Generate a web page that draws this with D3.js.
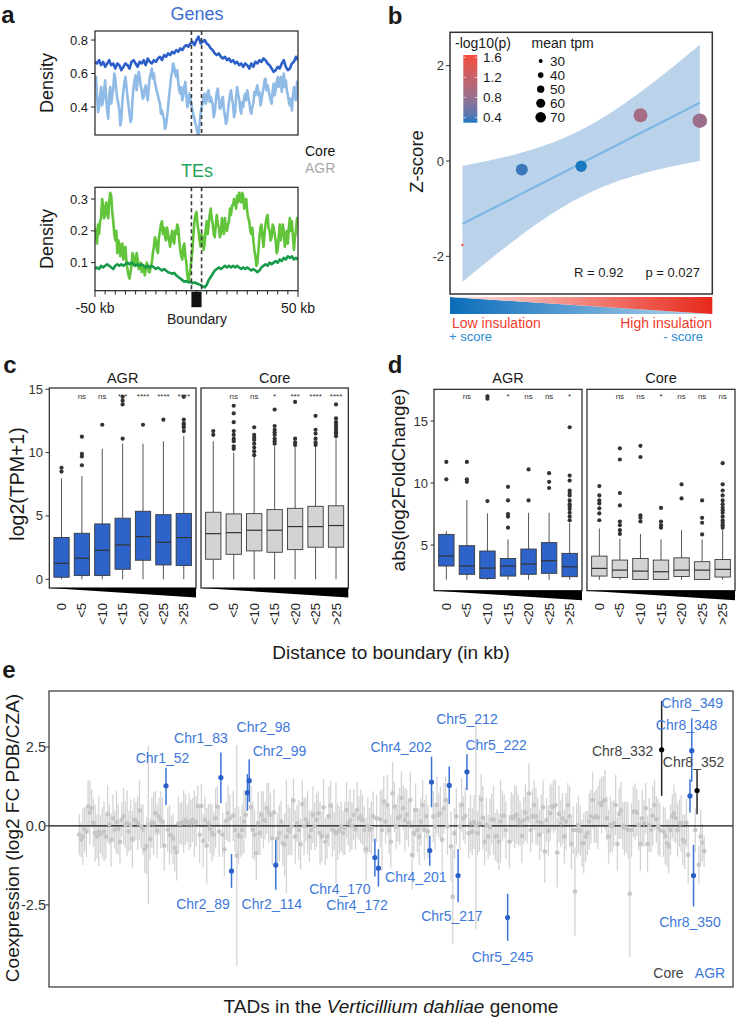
<!DOCTYPE html>
<html><head><meta charset="utf-8">
<script src="https://cdn.jsdelivr.net/npm/d3@7"></script>
<style>
body{margin:0;background:#fff;}
svg{display:block;font-family:"Liberation Sans",Arial,Helvetica,sans-serif;}
</style></head><body>
<svg id="fig" width="739" height="1019"></svg>
<script>
// ---------------- DATA ----------------
// Panel a: density profiles around TAD boundaries
const kbPos = d3.range(-50, 51);            // 1 kb bins (Core)
const kbPosHalf = d3.range(-50, 50.01, 0.5); // 0.5 kb bins (AGR)
const geneCore = [0.67,0.66,0.68,0.65,0.67,0.64,0.66,0.68,0.65,0.66,
  0.63,0.66,0.65,0.62,0.64,0.66,0.65,0.63,0.67,0.68,
  0.66,0.64,0.67,0.66,0.68,0.65,0.69,0.67,0.66,0.68,
  0.67,0.69,0.70,0.68,0.71,0.70,0.72,0.71,0.73,0.72,
  0.74,0.73,0.75,0.74,0.76,0.77,0.76,0.78,0.79,0.77,
  0.80,0.82,0.78,0.79,0.80,0.78,0.77,0.75,0.74,0.72,
  0.71,0.72,0.70,0.69,0.70,0.68,0.69,0.67,0.68,0.66,
  0.67,0.65,0.66,0.64,0.66,0.65,0.63,0.66,0.64,0.67,
  0.66,0.68,0.67,0.69,0.68,0.66,0.65,0.63,0.61,0.62,
  0.64,0.63,0.66,0.68,0.64,0.62,0.63,0.66,0.67,0.70,0.68];
const geneAGR = [
  0.53,0.58,0.46,0.37,0.40,0.47,0.52,0.41,0.44,0.50,0.56,0.45,0.38,0.33,0.47,0.52,0.42,0.47,0.51,0.60,
  0.57,0.50,0.45,0.42,0.38,0.29,0.33,0.44,0.50,0.55,0.58,0.52,0.46,0.41,0.36,0.31,0.33,0.45,0.52,0.56,
  0.59,0.50,0.55,0.61,0.58,0.53,0.50,0.45,0.46,0.51,0.53,0.48,0.44,0.52,0.58,0.60,0.63,0.57,0.60,0.55,
  0.52,0.49,0.47,0.44,0.42,0.36,0.38,0.35,0.33,0.27,0.29,0.34,0.40,0.47,0.52,0.58,0.61,0.66,0.64,0.60,
  0.58,0.62,0.55,0.50,0.48,0.52,0.44,0.47,0.52,0.55,0.47,0.40,0.42,0.48,0.45,0.41,0.38,0.35,0.33,0.30,
  0.28,0.24,0.23,0.30,0.36,0.40,0.42,0.46,0.48,0.42,0.44,0.49,0.50,0.43,0.46,0.44,0.41,0.34,0.37,0.44,
  0.49,0.51,0.44,0.39,0.40,0.45,0.46,0.38,0.35,0.30,0.32,0.38,0.43,0.47,0.50,0.45,0.41,0.34,0.37,0.46,
  0.52,0.48,0.45,0.39,0.36,0.43,0.40,0.46,0.48,0.44,0.50,0.46,0.43,0.38,0.36,0.40,0.42,0.49,0.47,0.51,
  0.53,0.47,0.49,0.41,0.44,0.48,0.51,0.56,0.57,0.50,0.53,0.50,0.47,0.44,0.42,0.49,0.54,0.47,0.50,0.55,
  0.58,0.52,0.54,0.58,0.49,0.55,0.60,0.52,0.56,0.50,0.47,0.43,0.41,0.45,0.38,0.47,0.52,0.46,0.44,0.55,0.50];
const teCore = [0.080,0.085,0.080,0.090,0.085,0.090,0.095,0.090,0.085,0.080,
  0.090,0.095,0.090,0.095,0.090,0.095,0.100,0.095,0.100,0.095,
  0.090,0.095,0.090,0.095,0.090,0.085,0.090,0.085,0.090,0.085,
  0.080,0.085,0.080,0.075,0.080,0.075,0.070,0.068,0.065,0.068,
  0.060,0.055,0.050,0.045,0.040,0.042,0.038,0.040,0.035,0.038,
  0.035,0.032,0.030,0.025,0.022,0.030,0.045,0.055,0.065,0.075,
  0.080,0.085,0.080,0.085,0.090,0.085,0.090,0.085,0.090,0.085,
  0.090,0.085,0.080,0.085,0.080,0.085,0.080,0.075,0.080,0.075,
  0.070,0.075,0.085,0.090,0.095,0.090,0.100,0.095,0.100,0.105,
  0.100,0.110,0.105,0.115,0.110,0.120,0.115,0.120,0.110,0.115,0.110];
const teAGR = [
  0.21,0.18,0.16,0.22,0.19,0.23,0.24,0.30,0.28,0.24,0.25,0.29,0.27,0.24,0.29,0.32,0.31,0.26,0.23,0.19,
  0.17,0.20,0.13,0.17,0.16,0.12,0.14,0.16,0.11,0.13,0.15,0.10,0.08,0.06,0.05,0.07,0.09,0.13,0.12,0.09,
  0.10,0.13,0.11,0.08,0.09,0.10,0.07,0.09,0.09,0.06,0.08,0.10,0.09,0.07,0.07,0.09,0.10,0.13,0.15,0.18,
  0.17,0.14,0.13,0.18,0.20,0.22,0.23,0.19,0.21,0.18,0.17,0.21,0.19,0.17,0.15,0.18,0.20,0.17,0.16,0.20,
  0.19,0.22,0.21,0.17,0.14,0.12,0.11,0.15,0.16,0.12,0.10,0.06,0.04,0.06,0.08,0.11,0.14,0.19,0.23,0.25,
  0.26,0.22,0.20,0.17,0.15,0.19,0.18,0.14,0.16,0.20,0.23,0.19,0.22,0.25,0.27,0.24,0.22,0.19,0.18,0.22,
  0.25,0.22,0.21,0.18,0.19,0.24,0.22,0.19,0.24,0.21,0.20,0.22,0.23,0.27,0.25,0.28,0.28,0.30,0.29,0.27,
  0.31,0.29,0.32,0.30,0.29,0.32,0.31,0.27,0.28,0.30,0.26,0.24,0.23,0.20,0.19,0.21,0.17,0.14,0.12,0.09,
  0.10,0.14,0.18,0.21,0.22,0.18,0.15,0.19,0.22,0.24,0.25,0.21,0.20,0.17,0.18,0.22,0.21,0.19,0.17,0.13,
  0.14,0.18,0.22,0.17,0.19,0.22,0.20,0.15,0.17,0.20,0.16,0.21,0.24,0.20,0.23,0.18,0.14,0.18,0.20,0.24,0.23];

// Panel b: insulation categories
const bX = [1, 2, 3, 4, 5];
const bZ = [-1.76, -0.18, -0.11, 0.96, 0.845];
const bLogP = [1.7, 0.35, 0.30, 0.90, 0.85];
const bTpm = [20, 78, 75, 90, 94];
const legLogP = [1.6, 1.2, 0.8, 0.4];
const legTpm = [30, 40, 50, 60, 70];

// Panels c/d: distance categories; box stats [q1, median, q3, whiskerLow, whiskerHigh]
const distCats = ["0", "<5", "<10", "<15", "<20", "<25", ">25"];
const cStatsAGR = [[0.16,1.26,3.3,0,7.97],[0.29,1.66,3.63,0,8.16],[0.29,2.29,4.37,0,10.3],[0.79,2.71,4.82,0,10.7],[1.5,3.37,5.37,0,10.7],[1.13,2.92,5.1,0,10.9],[1.08,3.29,5.2,0,11.3]];
const cOutAGR = [[8.5,8.8],[9.0,9.7,9.9,11.26],[12.2],[11.1,13.8,14.1,14.4],[12.2],[12.6],[11.7,12.0,12.2,12.3,12.6,14.4]];
const cStatsCore = [[1.58,3.6,5.29,0,10.9],[1.97,3.68,5.16,0,10.0],[2.24,3.87,5.18,0,9.7],[2.13,3.87,5.5,0,10.5],[2.34,4.16,5.6,0,10.5],[2.53,4.16,5.76,0,10.5],[2.53,4.24,5.8,0,11.1]];
const cOutCore = [[11.4,11.7],[10.3,10.5,10.9,11.1,11.4,11.7,12.4,13.1,13.7],[9.8,10.1,10.4,10.7,11.0,11.2,11.4,12.0],[10.7,10.9,11.1,11.4,11.6,11.8,12.1,13.4],[10.6,10.8,11.1,14.0],[10.6,10.8,11.1,11.5,11.8,12.9],[11.3,11.5,11.6,11.8,12.0,12.2,12.4,12.7,13.8]];
const cSigAGR = ["", "ns", "ns", "***", "****", "****", "****"];
const cSigCore = ["", "ns", "ns", "*", "***", "****", "****"];
const dStatsAGR = [[3.31,4.11,5.86,2.2,6.13],[2.64,3.31,4.95,2.2,8.63],[2.31,3.14,4.52,2.2,7.55],[2.5,3.31,3.92,2.2,5.46],[2.64,3.47,4.68,2.2,7.6],[2.72,3.74,5.2,2.2,7.6],[2.45,3.25,4.33,2.2,6.8]];
const dOutAGR = [[10.3,11.7],[10.1,10.3,11.7],[8.55,16.8,17.0],[6.4,7.3,7.5,8.6,9.7],[8.6,11.1],[9.6,10.1,10.8],[7.0,7.3,7.6,7.9,8.1,8.3,8.6,9.0,9.2,9.4,10.2,10.6,14.5]];
const dStatsCore = [[2.5,3.12,4.11,2.2,6.34],[2.39,2.98,3.79,2.2,5.5],[2.23,2.9,3.92,2.2,5.9],[2.23,2.85,3.79,2.2,5.46],[2.47,2.98,3.97,2.2,6.2],[2.23,2.98,3.66,2.2,5.46],[2.42,3.04,3.84,2.2,6.2]];
const dOutCore = [[7.0,7.55,7.96,8.36,8.6,9.0,9.76],[5.9,6.2,6.6,6.9,8.2,9.2,11.9,12.8],[6.9,7.2,7.4,12.1,13.0],[6.4,6.6,6.9,8.0],[8.76,9.9],[5.86,6.8,7.2,8.6],[6.4,6.6,6.8,7.0,7.3,7.6,7.8,8.0,8.3,8.6,9.0,9.4,9.9,11.6]];
const dSigAGR = ["", "ns", "*", "*", "ns", "ns", "*"];
const dSigCore = ["", "ns", "ns", "*", "ns", "ns", "ns"];

// Panel e: TAD co-expression (TAD index starts at 3); null = highlighted TAD
const tadStart = 3;
const tadValue = [
 -0.28,-0.44,-0.34,-0.10,-0.18,0.61,0.42,0.56,0.10,-0.23,
 -0.34,-0.18,-0.26,-0.21,-0.18,-0.34,0.38,0.05,-0.44,0.24,
 -0.12,0.12,-0.10,-0.50,0.19,0.30,0.03,0.08,-0.18,0.03,
 -0.42,0.19,0.16,0.08,0.49,-0.02,-0.12,-0.74,-0.63,0.03,
 -0.42,0.10,0.08,0.40,-0.15,0.30,0.19,0.14,-0.63,null,
 -0.12,-0.28,-0.30,-0.41,-0.69,-0.83,0.08,0.08,0.08,0.14,
 0.19,0.08,0.14,0.08,0.19,0.08,0.14,0.63,-0.28,0.63,
 -0.47,0.19,-0.63,0.08,-0.08,-0.23,-0.28,0.24,0.61,-0.18,
 null,-0.28,-0.74,0.16,0.40,0.24,null,0.32,-0.13,-0.94,
 -0.30,-0.34,-0.13,0.14,0.35,null,null,0.59,-0.13,-0.28,
 -0.86,0.08,-0.23,0.35,0.19,0.16,0.56,0.42,0.35,-0.39,
 0.42,null,-0.39,-0.23,0.14,-0.55,-0.60,-0.34,-0.13,-0.18,
 -0.02,0.80,-0.34,0.08,-0.13,-0.58,0.69,-0.02,0.21,0.10,
 -0.34,-0.13,0.35,-0.02,0.19,0.40,-0.23,-0.34,0.59,-0.50,
 -0.34,0.30,0.64,-0.13,-0.16,-0.23,-0.18,-0.13,-0.02,-0.23,
 -0.07,0.50,0.08,0.17,0.00,0.35,-0.11,0.50,0.24,0.30,
 0.19,-0.13,-0.74,0.00,-0.13,-0.07,0.30,null,0.24,null,
 0.21,-0.13,0.77,0.14,0.66,-0.13,-0.50,1.03,0.61,-0.02,
 0.24,0.30,0.88,0.56,0.19,0.35,0.08,0.82,-0.92,-0.23,
 0.50,-0.13,-0.34,0.14,0.66,-0.13,0.30,-0.18,null,null,
 0.30,-0.02,0.66,0.35,0.40,-0.44,0.56,0.82,-0.02,null,
 -0.65,-2.24,-0.23,0.30,null,-0.02,0.66,0.24,0.32,null,
 -0.23,0.08,-0.18,0.11,0.02,-0.23,0.08,0.84,0.26,-0.50,
 0.03,-0.34,-0.04,0.21,0.19,-0.34,-0.32,-0.50,0.14,0.32,
 0.32,-0.13,null,-0.50,0.27,0.24,0.30,0.35,0.19,0.08,
 -0.32,0.17,0.42,0.24,1.03,-0.13,0.30,0.66,0.30,0.14,
 -0.28,0.10,0.59,-0.81,0.19,-0.15,0.40,0.61,0.61,0.66,
 -0.84,0.38,0.08,0.24,-0.34,0.14,0.66,0.30,-0.57,-0.13,
 -2.08,-0.13,0.03,-0.15,-0.55,-0.55,-0.34,-0.23,0.14,0.30,
 0.82,0.26,0.30,0.27,0.72,0.66,0.77,0.82,0.24,-0.34,
 0.03,-0.02,0.08,0.66,-0.57,0.38,0.49,0.00,-0.07,-0.05,
 -0.13,-2.15,-0.13,0.45,0.45,0.42,0.03,-0.57,0.24,0.08,
 0.56,-0.57,0.03,-0.13,0.32,0.66,0.21,-0.02,-0.13,null,
 -0.18,-0.32,-0.55,-0.65,-0.13,0.30,0.40,0.24,-0.13,0.08,
 0.08,-0.44,-0.50,0.10,-0.92,null,null,null,-0.13,null,
 -1.23,-0.34,-0.53,-0.80];
const tadErr = [
 0.65,0.55,0.9,0.7,0.8,0.85,1.0,0.6,0.75,0.9,
 0.7,1.1,0.6,0.8,0.95,0.7,0.9,0.65,0.85,0.75,
 0.6,1.0,0.8,0.7,0.55,0.9,0.75,1.05,0.65,0.8,
 0.9,0.7,0.6,0.85,0.95,0.7,0.8,0.75,0.9,2.5,
 0.65,0.8,1.0,0.7,0.85,0.6,0.9,0.75,0.8,0,
 0.7,0.95,0.6,0.8,0.75,0.9,0.85,0.65,0.7,1.0,
 0.8,0.6,0.9,0.75,0.7,1.05,0.8,0.65,0.9,0.7,
 0.85,0.75,1.2,0.6,0.8,0.9,0.7,0.95,0.65,0.8,
 0,0.7,0.85,0.6,0.9,0.75,0,0.8,0.7,3.5,
 0.9,0.65,0.8,1.0,0.75,0,0,0.7,0.9,0.8,
 0.85,1.0,0.7,0.75,0.9,0.6,0.8,0.95,0.7,0.85,
 0.75,0,0.8,0.9,0.65,0.7,1.0,1.8,0.8,0.75,
 0.9,0.7,0.85,0.6,0.95,0.8,0.75,0.9,0.7,1.0,
 0.8,0.65,0.9,0.75,0.85,0.7,1.0,0.8,0.9,0.75,
 0.7,0.95,0.8,0.85,0.6,1.6,0.9,0.75,0.8,0.7,
 0.85,0.9,0.7,1.0,0.75,0.8,0.65,0.9,0.7,0.85,
 0.8,0.75,1.0,0.9,0.7,0.85,0.8,0,0.75,0,
 0.9,1.3,0.8,0.7,0.95,0.75,0.85,1.0,0.8,0.7,
 0.75,0.9,0.85,0.7,1.0,0.8,0.75,0.9,1.1,0.8,
 0.85,0.7,0.9,0.75,0.8,0.95,0.7,0.85,0,0,
 0.8,0.75,0.9,0.7,0.85,1.0,0.8,0.75,0.9,0,
 1.1,1.5,0.8,0.9,0,0.75,0.85,0.7,0.9,0,
 0.8,0.9,0.75,0.85,3.3,0.7,0.9,0.8,1.0,0.75,
 0.85,0.7,0.9,0.8,1.1,0.75,0.85,0.9,1.3,0.8,
 0.7,0.9,0,0.85,0.8,0.75,1.0,0.9,0.8,0.7,
 0.85,0.75,0.9,0.8,0.95,0.7,0.85,0.8,0.9,0.75,
 0.8,0.9,0.85,1.0,0.7,0.8,0.9,0.75,0.85,0.8,
 1.1,0.9,0.75,0.8,0.85,0.9,0.7,0.95,0.8,0.75,
 1.4,0.85,0.9,0.8,0.75,0.95,0.8,0.7,0.9,0.85,
 0.9,0.8,0.85,1.0,0.75,0.9,0.8,0.95,0.7,0.85,
 0.9,0.8,0.75,0.95,0.85,0.8,0.9,0.75,0.85,0.8,
 0.9,2.0,0.85,0.8,0.9,0.75,0.8,0.85,0.9,0.75,
 0.8,0.9,0.85,0.7,0.95,0.8,0.75,0.9,0.85,0,
 0.8,0.9,0.75,0.85,0.8,0.7,0.9,0.8,0.85,0.75,
 0.9,0.8,0.85,0.75,0.9,0,0,0,0.7,0,
 0.6,0.85,0.6,0.5];
// highlighted TADs: name, TAD index, value, lower, upper, compartment
const hlName  = ["Chr1_52","Chr1_83","Chr2_89","Chr2_98","Chr2_99","Chr2_114","Chr4_170","Chr4_172","Chr4_201","Chr4_202","Chr5_212","Chr5_217","Chr5_222","Chr5_245","Chr8_332","Chr8_348","Chr8_349","Chr8_350","Chr8_352"];
const hlIndex = [52,83,89,98,99,114,170,172,201,202,212,217,222,245,332,348,349,350,352];
const hlValue = [1.27,1.53,-1.43,1.05,1.43,-1.24,-1.0,-1.34,-0.78,1.39,1.28,-1.57,1.71,-2.9,2.41,0.95,2.38,-1.57,1.12];
const hlLow   = [0.66,0.72,-1.96,0.48,0.76,-2.02,-1.6,-1.92,-1.26,0.59,0.69,-2.42,1.14,-3.64,0.95,0.42,1.4,-2.55,0.37];
const hlHigh  = [1.84,2.32,-0.89,1.64,2.11,-0.44,-0.41,-0.74,-0.31,2.19,1.88,-0.74,2.27,-2.15,3.96,1.48,3.41,-0.6,1.8];
const hlGroup = ["AGR","AGR","AGR","AGR","AGR","AGR","AGR","AGR","AGR","AGR","AGR","AGR","AGR","AGR","Core","AGR","AGR","AGR","Core"];

// ---------------- LAYOUT / STYLE ----------------
const svg = d3.select("#fig");
function T(x, y, s, o = {}) {
  const t = svg.append("text").attr("x", x).attr("y", y).text(s)
    .attr("font-size", o.size || 13).attr("fill", o.fill || "#1a1a1a")
    .attr("text-anchor", o.anchor || "start");
  if (o.weight) t.attr("font-weight", o.weight);
  if (o.rot) t.attr("transform", `rotate(${o.rot},${x},${y})`);
  if (o.mid) t.attr("dy", "0.35em");
  if (o.style) t.attr("font-style", o.style);
  return t;
}
const defs = svg.append("defs");

// panel letters
T(8, 15, "a", {size: 24, weight: "bold", anchor: "middle", mid: true});
T(395, 16, "b", {size: 24, weight: "bold", anchor: "middle", mid: true});
T(10, 365, "c", {size: 24, weight: "bold", anchor: "middle", mid: true});
T(395, 365, "d", {size: 24, weight: "bold", anchor: "middle", mid: true});
T(9, 670, "e", {size: 24, weight: "bold", anchor: "middle", mid: true});

// ---------------- PANEL A ----------------
const xA = d3.scaleLinear().domain([-50, 50]).range([95, 298]);
const yGenes = d3.scaleLinear().domain([0.233, 0.854]).range([135, 31]);
const yTEs = d3.scaleLinear().domain([0.0117, 0.337]).range([290.7, 187.3]);
function panelA(yS, series, positions, colors, ticks, title, titleColor, titleY, clipId) {
  const [y1, y0] = yS.range();
  defs.append("clipPath").attr("id", clipId).append("rect")
    .attr("x", 95).attr("y", y0).attr("width", 203).attr("height", y1 - y0);
  const line = d3.line().x(d => xA(d[0])).y(d => yS(d[1]));
  series.forEach((vals, k) => {
    svg.append("path").datum(vals.map((v, i) => [positions[k][i], v]))
      .attr("d", line).attr("fill", "none").attr("stroke", colors[k])
      .attr("stroke-width", 2.6).attr("stroke-linejoin", "round")
      .attr("clip-path", `url(#${clipId})`);
  });
  [-2.5, 2.5].forEach(b => svg.append("line").attr("x1", xA(b)).attr("x2", xA(b))
    .attr("y1", y0).attr("y2", y1).attr("stroke", "#3a3a3a").attr("stroke-width", 1.6)
    .attr("stroke-dasharray", "4,3"));
  svg.append("rect").attr("x", 95).attr("y", y0).attr("width", 203).attr("height", y1 - y0)
    .attr("fill", "none").attr("stroke", "#222").attr("stroke-width", 1.2);
  ticks.forEach(t => {
    svg.append("line").attr("x1", 91).attr("x2", 95).attr("y1", yS(t)).attr("y2", yS(t)).attr("stroke", "#222");
    T(88, yS(t), t.toFixed(1), {size: 13, anchor: "end", mid: true});
  });
  T(47, (y0 + y1) / 2, "Density", {size: 18, anchor: "middle", mid: true, rot: -90});
  T(197, titleY, title, {size: 18, anchor: "middle", mid: true, fill: titleColor});
}
panelA(yGenes, [geneAGR, geneCore], [kbPosHalf, kbPos], ["#8FBBE6", "#2C5FC8"], [0.4, 0.6, 0.8], "Genes", "#3B6FD6", 14, "clipG");
panelA(yTEs, [teAGR, teCore], [kbPosHalf, kbPos], ["#62C43A", "#179A4A"], [0.1, 0.2, 0.3], "TEs", "#1FA35A", 171, "clipT");
T(305, 151, "Core", {size: 14, mid: true, fill: "#111"});
T(305, 168, "AGR", {size: 14, mid: true, fill: "#a8a8a8"});
d3.range(-50, 51, 5).forEach(k => {
  const end = (k === -50 || k === 50);
  svg.append("line").attr("x1", xA(k)).attr("x2", xA(k)).attr("y1", 290.7).attr("y2", end ? 297 : 294.5)
    .attr("stroke", "#222").attr("stroke-width", 1);
});
svg.append("rect").attr("x", xA(-2.5)).attr("y", 291.7).attr("width", xA(2.5) - xA(-2.5)).attr("height", 15.5).attr("fill", "#111");
T(xA(-50), 308, "-50 kb", {size: 14, anchor: "middle", mid: true});
T(xA(50), 308, "50 kb", {size: 14, anchor: "middle", mid: true});
T(197, 319, "Boundary", {size: 14, anchor: "middle", mid: true});

// ---------------- PANEL B ----------------
const xB = d3.scaleLinear().domain([0.79, 5.21]).range([450, 712.3]);
const yB = d3.scaleLinear().domain([-2.79, 2.7]).range([294, 32.3]);
const colB = d3.scaleLinear().domain([0.3, 1.646]).range(["#1B79C0", "#F44B3C"]).interpolate(d3.interpolateLab);
const rB = d3.scaleLinear().domain([30, 70]).range([2, 5.3]);
// linear fit with 95% CI (like geom_smooth(method = "lm"))
const n = bX.length, mx = d3.mean(bX), my = d3.mean(bZ);
const sxx = d3.sum(bX, x => (x - mx) ** 2);
const sxy = d3.sum(bX, (x, i) => (x - mx) * (bZ[i] - my));
const slope = sxy / sxx, icpt = my - slope * mx;
const sres = Math.sqrt(d3.sum(bX, (x, i) => (bZ[i] - icpt - slope * x) ** 2) / (n - 2));
const tq = 3.182;
const fitX = d3.range(1, 5.0001, 0.05);
const band = fitX.map(x => {
  const f = icpt + slope * x, se = sres * Math.sqrt(1 / n + (x - mx) ** 2 / sxx);
  return {x, f, lo: f - tq * se, hi: f + tq * se};
});
defs.append("clipPath").attr("id", "clipB").append("rect").attr("x", 450).attr("y", 32.3).attr("width", 262.3).attr("height", 261.7);
svg.append("path").datum(band).attr("d", d3.area().x(d => xB(d.x)).y0(d => yB(d.lo)).y1(d => yB(d.hi)))
  .attr("fill", "#BBD3EA").attr("clip-path", "url(#clipB)");
svg.append("path").datum(band).attr("d", d3.line().x(d => xB(d.x)).y(d => yB(d.f)))
  .attr("fill", "none").attr("stroke", "#7DB8E5").attr("stroke-width", 2.2);
svg.append("g").selectAll("circle").data(bX).join("circle")
  .attr("cx", d => xB(d)).attr("cy", (d, i) => yB(bZ[i])).attr("r", (d, i) => rB(bTpm[i]))
  .attr("fill", (d, i) => colB(bLogP[i]));
svg.append("rect").attr("x", 450).attr("y", 32.3).attr("width", 262.3).attr("height", 261.7)
  .attr("fill", "none").attr("stroke", "#333").attr("stroke-width", 1.5);
[-2, 0, 2].forEach(t => {
  svg.append("line").attr("x1", 446).attr("x2", 450).attr("y1", yB(t)).attr("y2", yB(t)).attr("stroke", "#333");
  T(444, yB(t), String(t), {size: 13, anchor: "end", mid: true, fill: "#333"});
});
T(417, 161.5, "Z-score", {size: 18.5, anchor: "middle", mid: true, rot: -90});
// legend: -log10(p)
T(455, 43.5, "-log10(p)", {size: 14, mid: true});
const lgY = d3.scaleLinear().domain([0.3, 1.646]).range([122.7, 55]);
const cbGrad = defs.append("linearGradient").attr("id", "cbGrad").attr("x1", 0).attr("y1", 1).attr("x2", 0).attr("y2", 0);
d3.range(0, 1.0001, 0.1).forEach(f => cbGrad.append("stop").attr("offset", f).attr("stop-color", colB(0.3 + f * 1.346)));
svg.append("rect").attr("x", 463.3).attr("y", 55).attr("width", 14).attr("height", 67.7).attr("fill", "url(#cbGrad)");
legLogP.forEach(v => {
  [[463.3, 466], [474.6, 477.3]].forEach(([a, b]) => svg.append("line").attr("x1", a).attr("x2", b)
    .attr("y1", lgY(v)).attr("y2", lgY(v)).attr("stroke", "#fff").attr("stroke-width", 0.8).attr("opacity", 0.8));
  T(483, lgY(v), v.toFixed(1), {size: 13.5, mid: true});
});
// legend: mean tpm
T(531.5, 43.5, "mean tpm", {size: 14, mid: true});
const tpmY = d3.scalePoint().domain(legTpm).range([61, 117.3]);
legTpm.forEach(v => {
  svg.append("circle").attr("cx", 540.7).attr("cy", tpmY(v)).attr("r", rB(v)).attr("fill", "#000");
  T(550, tpmY(v), String(v), {size: 13.5, mid: true});
});
T(574, 272.5, "R = 0.92", {size: 13, mid: true});
T(700, 272.5, "p = 0.027", {size: 13, anchor: "end", mid: true});
// insulation bar
const gBlue = defs.append("linearGradient").attr("id", "gBlue");
gBlue.append("stop").attr("offset", 0).attr("stop-color", "#0B6DB9");
gBlue.append("stop").attr("offset", 1).attr("stop-color", "#B7D6EE");
const gRed = defs.append("linearGradient").attr("id", "gRed");
gRed.append("stop").attr("offset", 0).attr("stop-color", "#FCE4E0");
gRed.append("stop").attr("offset", 1).attr("stop-color", "#E8281B");
svg.append("polygon").attr("points", "450,297 712.3,314 450,314").attr("fill", "url(#gBlue)");
svg.append("polygon").attr("points", "450,297 712.3,297 712.3,314").attr("fill", "url(#gRed)");
T(452, 323, "Low insulation", {size: 14, mid: true, fill: "#EF3B2C"});
T(712, 323, "High insulation", {size: 14, anchor: "end", mid: true, fill: "#EF3B2C"});
T(449, 336.5, "+ score", {size: 13, mid: true, fill: "#2A8BD4"});
T(703, 336.5, "- score", {size: 13, anchor: "end", mid: true, fill: "#2A8BD4"});

// ---------------- PANELS C & D ----------------
function boxPanel(px0, px1, py0, py1, yS, stats, outs, sig, fill, title) {
  const xs = d3.scalePoint().domain(distCats).range([px0, px1]).padding(0.6);
  const bw = xs.step() * 0.75;
  const g = svg.append("g");
  const rows = distCats.map((c, i) => ({c, s: stats[i], o: outs[i], sig: sig[i]}));
  g.selectAll(".wh").data(rows).join("line").attr("x1", d => xs(d.c)).attr("x2", d => xs(d.c))
    .attr("y1", d => yS(d.s[4])).attr("y2", d => yS(d.s[2])).attr("stroke", "#555").attr("stroke-width", 1);
  g.selectAll(".wl").data(rows).join("line").attr("x1", d => xs(d.c)).attr("x2", d => xs(d.c))
    .attr("y1", d => yS(d.s[0])).attr("y2", d => yS(d.s[3])).attr("stroke", "#555").attr("stroke-width", 1);
  g.selectAll("rect.bx").data(rows).join("rect").attr("class", "bx")
    .attr("x", d => xs(d.c) - bw / 2).attr("y", d => yS(d.s[2])).attr("width", bw)
    .attr("height", d => yS(d.s[0]) - yS(d.s[2])).attr("fill", fill).attr("stroke", "#3a3a3a").attr("stroke-width", 0.9);
  g.selectAll(".md").data(rows).join("line").attr("x1", d => xs(d.c) - bw / 2).attr("x2", d => xs(d.c) + bw / 2)
    .attr("y1", d => yS(d.s[1])).attr("y2", d => yS(d.s[1])).attr("stroke", "#333").attr("stroke-width", 1.2);
  rows.forEach(d => g.selectAll(null).data(d.o).join("circle").attr("cx", xs(d.c)).attr("cy", v => yS(v))
    .attr("r", 2.1).attr("fill", "#333"));
  g.selectAll("text.sg").data(rows).join("text").attr("x", d => xs(d.c)).attr("y", 396).attr("dy", "0.35em")
    .attr("text-anchor", "middle").attr("font-size", 8).attr("fill", "#333").text(d => d.sig);
  svg.append("rect").attr("x", px0).attr("y", py0).attr("width", px1 - px0).attr("height", py1 - py0)
    .attr("fill", "none").attr("stroke", "#222").attr("stroke-width", 1.2);
  T((px0 + px1) / 2, 378.3, title, {size: 14.5, anchor: "middle", mid: true});
  svg.append("polygon").attr("points", `${px0},${py1} ${px1},${py1} ${px1},${py1 + 9.5}`).attr("fill", "#000");
  distCats.forEach(c => T(xs(c), 603, c, {size: 13, anchor: "end", mid: true, rot: -90, fill: "#222"}));
}
const yC = d3.scaleLinear().domain([-0.69, 15.1]).range([588, 388]);
boxPanel(49.3, 196, 388, 588, yC, cStatsAGR, cOutAGR, cSigAGR, "#2E63CA", "AGR");
boxPanel(201, 348.3, 388, 588, yC, cStatsCore, cOutCore, cSigCore, "#D3D3D3", "Core");
[0, 5, 10, 15].forEach(t => {
  svg.append("line").attr("x1", 45.5).attr("x2", 49.3).attr("y1", yC(t)).attr("y2", yC(t)).attr("stroke", "#333");
  T(43, yC(t), String(t), {size: 13, anchor: "end", mid: true, fill: "#333"});
});
T(17, 484, "log2(TPM+1)", {size: 19.5, anchor: "middle", mid: true, rot: -90});
const yD = d3.scaleLinear().domain([1.32, 17.56]).range([590.7, 389.3]);
boxPanel(434, 582, 389.3, 590.7, yD, dStatsAGR, dOutAGR, dSigAGR, "#2E63CA", "AGR");
boxPanel(587, 735, 389.3, 590.7, yD, dStatsCore, dOutCore, dSigCore, "#D3D3D3", "Core");
[5, 10, 15].forEach(t => {
  svg.append("line").attr("x1", 430.5).attr("x2", 434).attr("y1", yD(t)).attr("y2", yD(t)).attr("stroke", "#333");
  T(428, yD(t), String(t), {size: 13, anchor: "end", mid: true, fill: "#333"});
});
T(398.5, 480, "abs(log2FoldChange)", {size: 19, anchor: "middle", mid: true, rot: -90});
T(391, 652, "Distance to boundary (in kb)", {size: 19, anchor: "middle", mid: true});

// ---------------- PANEL E ----------------
const xE = d3.scaleLinear().domain([-14.1, 372.3]).range([49, 733]);
const yE = d3.scaleLinear().domain([-5.1, 4.27]).range([987, 691]);
const grey = tadValue.map((v, k) => ({i: tadStart + k, v, e: tadErr[k]})).filter(d => d.v !== null);
svg.append("g").selectAll("line").data(grey).join("line")
  .attr("x1", d => xE(d.i)).attr("x2", d => xE(d.i))
  .attr("y1", d => yE(d.v - d.e)).attr("y2", d => yE(d.v + d.e))
  .attr("stroke", "#D4D4D4").attr("stroke-width", 1.3);
svg.append("line").attr("x1", 49).attr("x2", 733).attr("y1", yE(0)).attr("y2", yE(0)).attr("stroke", "#111").attr("stroke-width", 1.2);
svg.append("g").selectAll("circle").data(grey).join("circle")
  .attr("cx", d => xE(d.i)).attr("cy", d => yE(d.v)).attr("r", 2.3).attr("fill", "#C6C6C6");
const hl = hlName.map((nm, k) => ({nm, i: hlIndex[k], v: hlValue[k], lo: hlLow[k], hi: hlHigh[k], g: hlGroup[k]}));
const labCol = g => g === "AGR" ? "#3D78DA" : "#444";
const hg = svg.append("g");
hg.selectAll("line").data(hl).join("line").attr("x1", d => xE(d.i)).attr("x2", d => xE(d.i))
  .attr("y1", d => yE(d.lo)).attr("y2", d => yE(d.hi)).attr("stroke", d => d.g === "AGR" ? "#3B74D8" : "#222").attr("stroke-width", 1.5);
hg.selectAll("circle").data(hl).join("circle").attr("cx", d => xE(d.i)).attr("cy", d => yE(d.v))
  .attr("r", 2.6).attr("fill", d => d.g === "AGR" ? "#2A5FC7" : "#000");
// repelled label offsets (px) relative to the point
const labelOffset = {Chr1_52: [-3.5, -28], Chr1_83: [-20, -39.5], Chr2_89: [-28.5, 33], Chr2_98: [16, -65.5],
  Chr2_99: [30.3, -30], Chr2_114: [-4, 39], Chr4_170: [-35, 31.5], Chr4_172: [-21.4, 37], Chr4_201: [-14, 26.5],
  Chr4_202: [-30.4, -35], Chr5_212: [17.7, -66], Chr5_217: [-6.2, 41], Chr5_222: [29.2, -26.5], Chr5_245: [-5.2, 39.7],
  Chr8_332: [-39, 1], Chr8_348: [-3.4, -71], Chr8_349: [0.5, -48], Chr8_350: [-3.6, 47], Chr8_352: [-3.5, -28.5]};
hl.forEach(d => {
  const off = labelOffset[d.nm];
  T(xE(d.i) + off[0], yE(d.v) + off[1], d.nm, {size: 14, anchor: "middle", mid: true, fill: labCol(d.g)});
});
svg.append("rect").attr("x", 49).attr("y", 691).attr("width", 684).attr("height", 296)
  .attr("fill", "none").attr("stroke", "#333").attr("stroke-width", 1.2);
[-2.5, 0, 2.5].forEach(t => {
  svg.append("line").attr("x1", 45.5).attr("x2", 49).attr("y1", yE(t)).attr("y2", yE(t)).attr("stroke", "#333");
  T(46, yE(t), t.toFixed(1), {size: 14.5, anchor: "end", mid: true, fill: "#333"});
});
T(668.5, 972.7, "Core", {size: 14, anchor: "middle", mid: true, fill: "#444"});
T(710, 972.7, "AGR", {size: 14, anchor: "middle", mid: true, fill: "#3D78DA"});
T(12, 838, "Coexpression (log2 FC PDB/CZA)", {size: 19, anchor: "middle", mid: true, rot: -90});
const xl = svg.append("text").attr("x", 391).attr("y", 1006).attr("dy", "0.35em").attr("text-anchor", "middle")
  .attr("font-size", 19).attr("fill", "#1a1a1a");
xl.append("tspan").text("TADs in the ");
xl.append("tspan").attr("font-style", "italic").text("Verticillium dahliae");
xl.append("tspan").text(" genome");
</script>
</body></html>
